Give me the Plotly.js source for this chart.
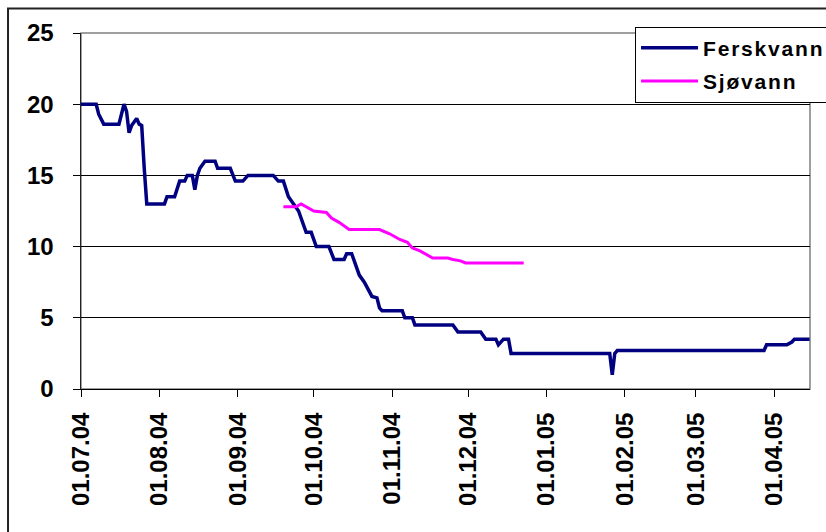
<!DOCTYPE html>
<html>
<head>
<meta charset="utf-8">
<script src="https://cdn.plot.ly/plotly-3.0.1.min.js"></script>
<style>html,body{margin:0;padding:0;background:#fff;}#chart{width:826px;height:532px;}
.legendtext{letter-spacing:1.8px;}</style>
</head>
<body>
<div id="chart"></div>
<script>
// Ferskvann (fresh water)
const ferskDates = ['2004-07-01','2004-07-07','2004-07-08','2004-07-09','2004-07-10','2004-07-16','2004-07-17','2004-07-18','2004-07-19','2004-07-20','2004-07-21','2004-07-23','2004-07-24','2004-07-25','2004-07-26','2004-07-27',
 '2004-08-03','2004-08-04','2004-08-07','2004-08-08','2004-08-09','2004-08-11','2004-08-12','2004-08-14','2004-08-15','2004-08-16','2004-08-17','2004-08-19','2004-08-23','2004-08-24','2004-08-29','2004-08-31',
 '2004-09-03','2004-09-05','2004-09-15','2004-09-17','2004-09-19','2004-09-21','2004-09-23','2004-09-25','2004-09-27','2004-09-28','2004-09-30',
 '2004-10-01','2004-10-02','2004-10-07','2004-10-08','2004-10-09','2004-10-13','2004-10-14','2004-10-16','2004-10-17','2004-10-19','2004-10-21','2004-10-22','2004-10-24','2004-10-26','2004-10-27','2004-10-28',
 '2004-11-05','2004-11-06','2004-11-09','2004-11-10','2004-11-25','2004-11-27',
 '2004-12-06','2004-12-08','2004-12-12','2004-12-13','2004-12-15','2004-12-17','2004-12-18',
 '2005-01-26','2005-01-27','2005-01-28','2005-01-29','2005-03-28','2005-03-29','2005-04-06','2005-04-08','2005-04-09','2005-04-15'];
const ferskValues = [20,20,19.3,19.0,18.6,18.6,19.2,20,19.5,18.0,18.5,19.0,18.6,18.5,15.5,13.0,
 13.0,13.5,13.5,14.0,14.6,14.6,15.0,15.0,14.0,15.0,15.5,16.0,16.0,15.5,15.5,14.6,
 14.6,15.0,15.0,14.6,14.6,13.5,13.0,12.5,11.5,11.0,11.0,
 10.5,10.0,10.0,9.5,9.1,9.1,9.5,9.5,9.0,8.0,7.5,7.2,6.5,6.4,5.7,5.5,
 5.5,5.0,5.0,4.5,4.5,4.0,
 4.0,3.5,3.5,3.1,3.5,3.5,2.5,
 2.5,1.0,2.5,2.7,2.7,3.1,3.1,3.3,3.5,3.5];

// Sjøvann (sea water)
const sjoDates = ['2004-09-19','2004-09-24','2004-09-26','2004-09-28','2004-10-01','2004-10-06','2004-10-08','2004-10-11','2004-10-15','2004-10-27','2004-10-31',
 '2004-11-04','2004-11-07','2004-11-09','2004-11-12','2004-11-17','2004-11-23','2004-11-25','2004-11-28','2004-11-30','2004-12-23'];
const sjoValues = [12.8,12.8,13.0,12.8,12.5,12.4,12.0,11.7,11.2,11.2,10.9,
 10.5,10.3,9.9,9.7,9.2,9.2,9.1,9.0,8.85,8.85];

const tickDates = ['2004-07-01','2004-08-01','2004-09-01','2004-10-01','2004-11-01','2004-12-01','2005-01-01','2005-02-01','2005-03-01','2005-04-01'];
const tickLabels = ['01.07.04','01.08.04','01.09.04','01.10.04','01.11.04','01.12.04','01.01.05','01.02.05','01.03.05','01.04.05'];
const yTicks = [0,5,10,15,20,25];

const font = {family:'"Liberation Sans", Arial, sans-serif', size:24, color:'#000', weight:700};

const traces = [
 {x:ferskDates, y:ferskValues, type:'scatter', mode:'lines', name:'Ferskvann', legendgroup:'a',
  line:{color:'#000080', width:3.5}},
 {x:sjoDates, y:sjoValues, type:'scatter', mode:'lines', name:'Sjøvann', legendgroup:'b',
  line:{color:'#FF00FF', width:3}}
];

const layout = {
 width:826, height:532,
 margin:{l:81, r:16, t:33, b:143, autoexpand:false},
 paper_bgcolor:'#fff', plot_bgcolor:'#fff',
 font:font,
 showlegend:true,
 legend:{x:0.760, xanchor:'left', y:1.018, yanchor:'top', bgcolor:'#fff', bordercolor:'#000', borderwidth:1,
   font:{family:'"Liberation Sans", Arial, sans-serif', size:21, color:'#000', weight:700},
   itemwidth:57, traceorder:'grouped', tracegroupgap:3},
 xaxis:{type:'date', range:['2004-07-01','2005-04-15 04:00'], tickmode:'array', tickvals:tickDates, ticktext:tickLabels,
   tickangle:-90, ticks:'outside', ticklen:7, tickcolor:'#000', tickwidth:1, showgrid:false, zeroline:false,
   showline:true, linecolor:'#000', linewidth:1, ticklabelstandoff:6, tickfont:font, fixedrange:true, automargin:false},
 yaxis:{range:[0,25], tickmode:'array', tickvals:yTicks, ticks:'outside', ticklen:7, tickcolor:'#000', tickwidth:1,
   showgrid:true, gridcolor:'#000', gridwidth:1, zeroline:false, showline:true, linecolor:'#222', linewidth:1.5,
   ticklabelstandoff:14, tickfont:font, fixedrange:true, automargin:false},
 shapes:[
  {type:'rect', xref:'paper', yref:'paper', x0:0, x1:1, y0:0, y1:1, line:{color:'#808080', width:1.5}, layer:'below'},
  {type:'rect', xref:'paper', yref:'paper', x0:-0.1001, x1:1.05, y0:-0.45, y1:1.069, line:{color:'#222', width:2}, layer:'below'}
 ]
};

Plotly.newPlot('chart', traces, layout, {staticPlot:true, displayModeBar:false});
</script>
</body>
</html>
